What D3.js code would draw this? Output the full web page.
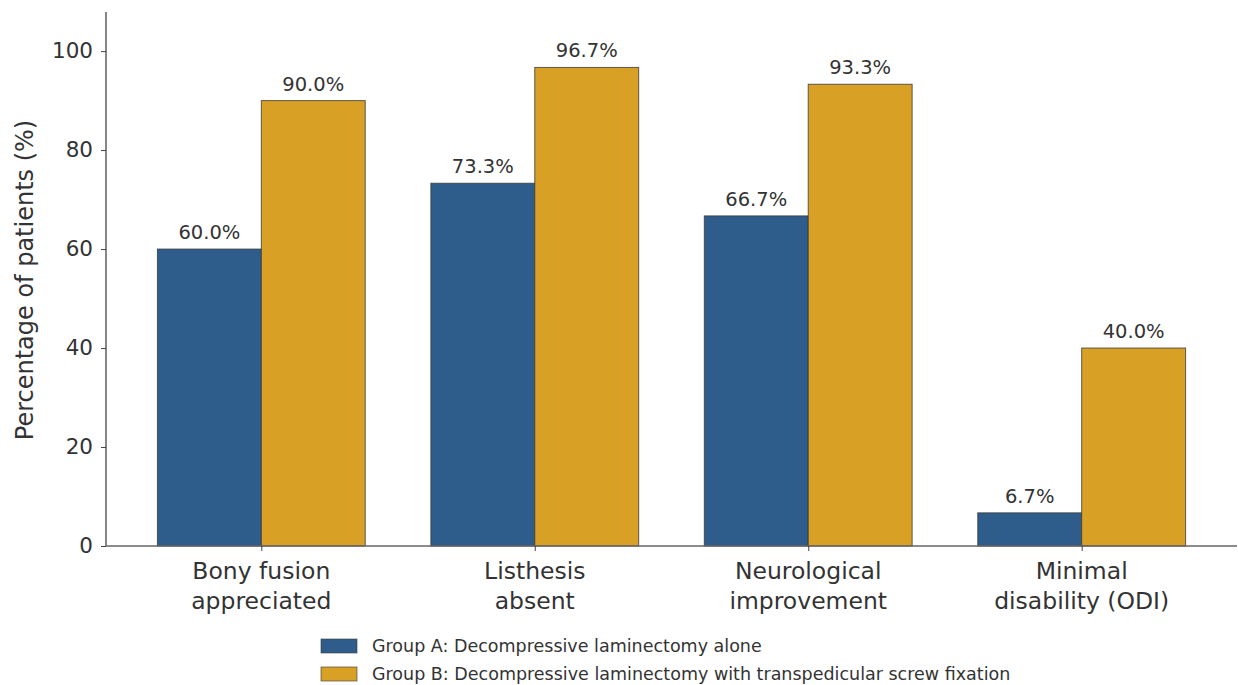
<!DOCTYPE html>
<html>
<head>
<meta charset="utf-8">
<script src="https://cdn.jsdelivr.net/npm/d3@7"></script>
<style>
  body { margin: 0; background: #fff; }
  text { font-family: "DejaVu Sans", sans-serif; fill: #333; }
</style>
</head>
<body>
<svg id="chart" width="1238" height="685"></svg>
<script>
// data
var categories = [["Bony fusion", "appreciated"], ["Listhesis", "absent"], ["Neurological", "improvement"], ["Minimal", "disability (ODI)"]];
var groupA = [60.0, 73.3, 66.7, 6.7];
var groupB = [90.0, 96.7, 93.3, 40.0];
var seriesNames = ["Group A: Decompressive laminectomy alone", "Group B: Decompressive laminectomy with transpedicular screw fixation"];
var colors = ["#2e5d8c", "#d9a026"];
var yTicks = [0, 20, 40, 60, 80, 100];

var svg = d3.select("#chart");
// plot box (window.top is read-only, so no "top" here)
var plotL = 106, plotR = 1237, plotT = 12, plotB = 546;
var barW = 0.38;

// x as a linear scale in category units, like matplotlib
var x = d3.scaleLinear().domain([-0.568, 3.568]).range([plotL, plotR]);
var y = d3.scaleLinear().domain([0, 107.9]).range([plotB, plotT]);

var series = [groupA, groupB];
series.forEach(function(vals, s) {
    var off = s === 0 ? -barW : 0;
    svg.append("g").selectAll("rect")
        .data(vals)
        .enter().append("rect")
        .attr("x", (d, i) => x(i + off))
        .attr("y", d => y(d))
        .attr("width", x(barW) - x(0))
        .attr("height", d => y(0) - y(d))
        .attr("fill", colors[s])
        .attr("stroke", "#3a3a3a")
        .attr("stroke-opacity", 0.8)
        .attr("stroke-width", 1);

    svg.append("g").selectAll("text")
        .data(vals)
        .enter().append("text")
        .attr("x", (d, i) => x(i + off + barW / 2))
        .attr("y", d => y(d) - 10)
        .attr("text-anchor", "middle")
        .style("font-size", "19.5px")
        .text(d => d.toFixed(1) + "%");
});

// y axis
var yAxis = svg.append("g")
    .attr("transform", "translate(" + plotL + ",0)")
    .call(d3.axisLeft(y).tickValues(yTicks).tickSize(5).tickPadding(8));
yAxis.select(".domain").attr("stroke", "#444").attr("stroke-width", 1.3).attr("d", "M0," + plotT + "V" + plotB);
yAxis.selectAll(".tick line").attr("stroke", "#444");
yAxis.selectAll(".tick text").style("font-size", "21.5px").attr("fill", "#333");

// x axis
var xAxis = svg.append("g")
    .attr("transform", "translate(0," + plotB + ")")
    .call(d3.axisBottom(x).tickValues([0, 1, 2, 3]).tickSize(5).tickFormat(""));
xAxis.select(".domain").attr("stroke", "#666").attr("stroke-width", 1.5).attr("d", "M" + plotL + ",0H" + plotR);
xAxis.selectAll(".tick line").attr("stroke", "#444");

svg.append("g").selectAll("text")
    .data(categories)
    .enter().append("text")
    .attr("x", (d, i) => x(i))
    .attr("y", 579)
    .attr("text-anchor", "middle")
    .style("font-size", "23.5px")
    .each(function(d) {
        var t = d3.select(this);
        d.forEach(function(line, j) {
            t.append("tspan").attr("x", t.attr("x")).attr("dy", j === 0 ? 0 : 30).text(line);
        });
    });

// y label
svg.append("text")
    .attr("transform", "translate(33,280) rotate(-90)")
    .attr("text-anchor", "middle")
    .style("font-size", "24px")
    .text("Percentage of patients (%)");

// legend
var legend = svg.append("g").attr("transform", "translate(321,639)");
seriesNames.forEach(function(name, i) {
    legend.append("rect")
        .attr("x", 0).attr("y", i * 28)
        .attr("width", 36).attr("height", 14)
        .attr("fill", colors[i])
        .attr("stroke", "#3a3a3a").attr("stroke-opacity", 0.6);
    legend.append("text")
        .attr("x", 51).attr("y", i * 28 + 13)
        .style("font-size", "17.5px")
        .text(name);
});
</script>
</body>
</html>
